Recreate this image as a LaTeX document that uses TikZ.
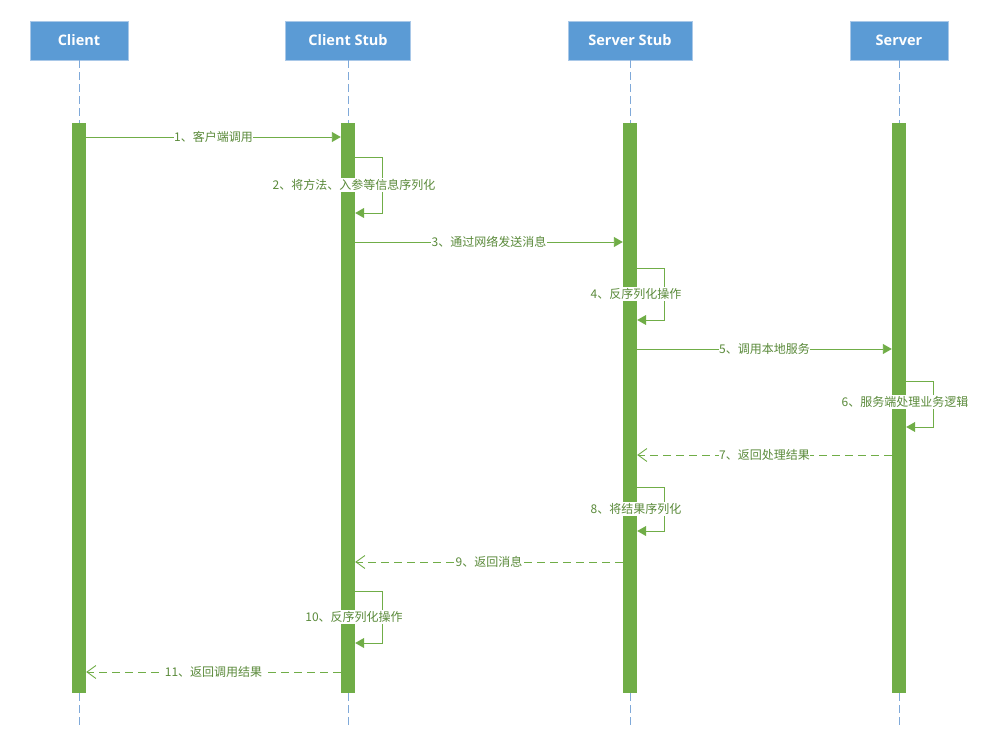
\documentclass[tikz,border=0pt]{standalone}
\usepackage{fontspec}
\setmainfont{Open Sans}
\newfontfamily\cjk{Noto Sans CJK SC}
\usetikzlibrary{arrows.meta}

\definecolor{headblue}{HTML}{5B9BD5}
\definecolor{headedge}{HTML}{A9C8E8}
\definecolor{lifeblue}{HTML}{7FA9D9}
\definecolor{bargreen}{HTML}{70AD47}
\definecolor{msggreen}{HTML}{70AD47}
\definecolor{lblgreen}{HTML}{5A8A3A}

\begin{document}
\begin{tikzpicture}[x=1pt, y=-1pt,
  head/.style={draw=headedge, line width=0.8pt, fill=headblue, text=white,
    font=\bfseries\fontsize{14.5}{17}\selectfont, minimum height=39pt, inner sep=0pt},
  bar/.style={fill=bargreen, draw=none, minimum width=14pt, minimum height=570pt, inner sep=0pt},
  life/.style={draw=lifeblue, line width=0.8pt, dash pattern=on 8pt off 4pt},
  msg/.style={draw=msggreen, line width=0.9pt, -{Triangle[length=9pt,width=10pt]}},
  ret/.style={draw=msggreen, line width=0.9pt, dash pattern=on 8pt off 5pt,
    -{Straight Barb[length=9pt,width=13pt]}},
  lbl/.style={fill=white, text=lblgreen, font=\cjk\fontsize{12}{14}\selectfont,
    inner xsep=0.5pt, inner ysep=1.5pt}]

  \useasboundingbox (0,0) rectangle (990,751);

  % participants
  \node[head, minimum width=98pt]  (client) at (79,40.5)  {Client};
  \node[head, minimum width=125pt] (cstub)  at (348,40.5) {Client Stub};
  \node[head, minimum width=124pt] (sstub)  at (630,40.5) {Server Stub};
  \node[head, minimum width=98pt]  (server) at (899,40.5) {Server};

  % lifelines and activation bars
  \foreach \n/\x in {client/79, cstub/348, sstub/630, server/899} {
    \node[bar] (\n-bar) at (\x,408) {};
    \coordinate (\n-end) at (\x,726);
    \draw[life] (\n.south) -- (\n-bar.north);
    \draw[life] (\n-bar.south) -- (\n-end);
  }

  % calls
  \draw[msg] (client-bar.east |- 0,137) -- node[lbl] (l1) {1、客户端调用} (cstub-bar.west |- 0,137);
  \draw[msg] (cstub-bar.east |- 0,157) -- ++(27,0) |- (cstub-bar.east |- 0,213); % self call
  \node[lbl] (l2) at (354,185) {2、将方法、入参等信息序列化};
  \draw[msg] (cstub-bar.east |- 0,242) -- node[lbl] (l3) {3、通过网络发送消息} (sstub-bar.west |- 0,242);
  \draw[msg] (sstub-bar.east |- 0,268) -- ++(27,0) |- (sstub-bar.east |- 0,320); % self call
  \node[lbl] (l4) at (636,294) {4、反序列化操作};
  \draw[msg] (sstub-bar.east |- 0,349) -- node[lbl] (l5) {5、调用本地服务} (server-bar.west |- 0,349);
  \draw[msg] (server-bar.east |- 0,381) -- ++(27,0) |- (server-bar.east |- 0,427); % self call
  \node[lbl] (l6) at (905,402) {6、服务端处理业务逻辑};

  % returns
  \draw[ret] (server-bar.west |- 0,455) -- node[lbl] (l7) {7、返回处理结果} (sstub-bar.east |- 0,455);
  \draw[msg] (sstub-bar.east |- 0,487) -- ++(27,0) |- (sstub-bar.east |- 0,531); % self call
  \node[lbl] (l8) at (636,509) {8、将结果序列化};
  \draw[ret] (sstub-bar.west |- 0,562) -- node[lbl] (l9) {9、返回消息} (cstub-bar.east |- 0,562);
  \draw[msg] (cstub-bar.east |- 0,591) -- ++(27,0) |- (cstub-bar.east |- 0,643); % self call
  \node[lbl] (l10) at (354,617) {10、反序列化操作};
  \draw[ret] (cstub-bar.west |- 0,672) -- node[lbl] (l11) {11、返回调用结果} (client-bar.east |- 0,672);

\end{tikzpicture}
\end{document}
